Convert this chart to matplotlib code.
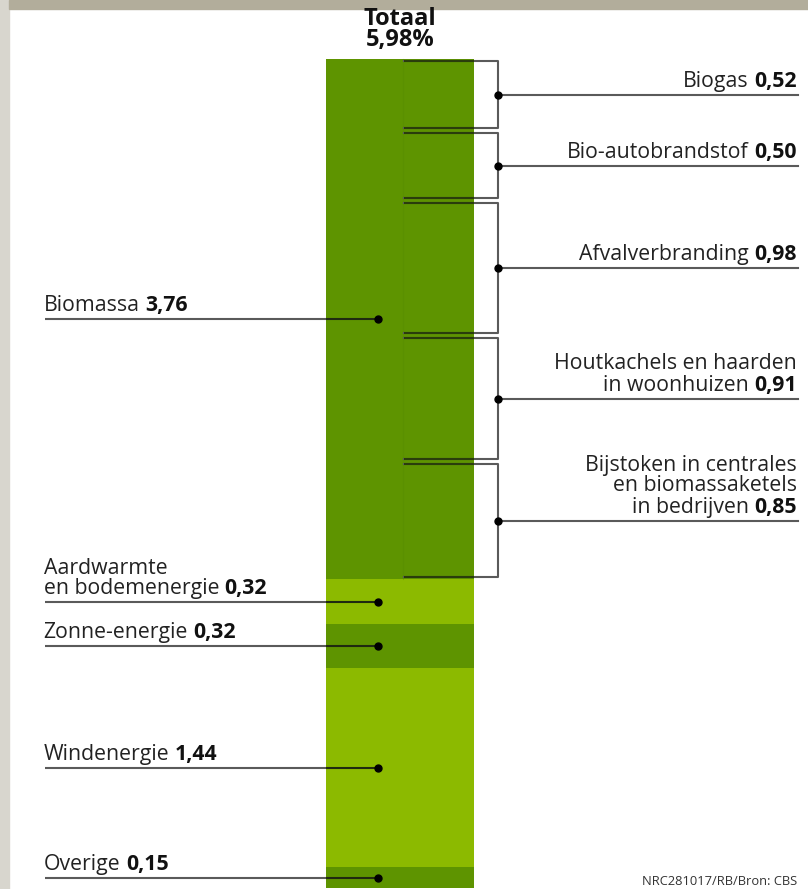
import matplotlib
matplotlib.use("Agg")
import matplotlib.pyplot as plt
from matplotlib.patches import Rectangle

plt.rcParams['font.family'] = ['Open Sans', 'DejaVu Sans']

# Share of renewable energy in total energy use (%), stacked from the bottom
sources = ["Overige", "Windenergie", "Zonne-energie",
           "Aardwarmte\nen bodemenergie", "Biomassa"]
shares = [0.15, 1.44, 0.32, 0.32, 3.76]
value_labels = ["0,15", "1,44", "0,32", "0,32", "3,76"]

# Breakdown of biomassa, from the top of the bar downwards
bio_parts = ["Biogas", "Bio-autobrandstof", "Afvalverbranding",
             "Houtkachels en haarden\nin woonhuizen",
             "Bijstoken in centrales\nen biomassaketels\nin bedrijven"]
bio_shares = [0.52, 0.50, 0.98, 0.91, 0.85]
bio_labels = ["0,52", "0,50", "0,98", "0,91", "0,85"]

total_label = "Totaal\n5,98%"
credit = "NRC281017/RB/Bron: CBS"

DARK = "#5e9400"
LIGHT = "#8cba00"
LINE = "#5a5a5a"

W, H = 808, 889
fig = plt.figure(figsize=(W / 100, H / 100), dpi=100)
fig.patch.set_facecolor("white")

# textured frame strips along the top and left edge
fig.add_artist(Rectangle((0, 0), 9 / W, 1, transform=fig.transFigure,
                         color="#d8d6ce", zorder=0))
fig.add_artist(Rectangle((9 / W, 1 - 9 / H), 1, 9 / H, transform=fig.transFigure,
                         color="#b2ad9b", zorder=0))

ax = fig.add_axes([0, 0, 1, 1])
ax.set_axis_off()

total = sum(shares)
px_per_unit = 829 / total
bar_bottom_px = 888
ax.set_xlim(0, W)
ax.set_ylim(-(H - bar_bottom_px) / px_per_unit,
            total + (H - (H - bar_bottom_px) - 829) / px_per_unit)

bar_x0, bar_x1 = 326, 474
bar_c = (bar_x0 + bar_x1) / 2
bar_w = bar_x1 - bar_x0
colors = [DARK, LIGHT, DARK, LIGHT, DARK]

bottoms = []
b = 0.0
for v in shares:
    bottoms.append(b)
    b += v
ax.bar([bar_c] * len(shares), shares, bottom=bottoms, width=bar_w,
       color=colors, edgecolor="none", zorder=1)

# faint seam between the two halves of the biomassa block
bio_bottom = bottoms[-1]
ax.plot([403, 403], [bio_bottom, total], color="#558a00", lw=0.8,
        alpha=0.35, zorder=2)

label_fs = 15.3
left_x0, left_dot = 45, 378

# labels on the left for the main sources
for name, v, bt, vl in zip(sources, shares, bottoms, value_labels):
    y = bt + v / 2
    ax.plot([left_x0, bar_x0], [y, y], color=LINE, lw=1.5, zorder=3,
            solid_capstyle="butt")
    ax.plot([bar_x0, left_dot], [y, y], color="#1f2a10", lw=1.5, zorder=3,
            solid_capstyle="butt")
    ax.plot(left_dot, y, "o", color="black", ms=5, zorder=4)
    t = ax.annotate(name, xy=(left_x0, y), xytext=(-1, 2),
                    textcoords="offset points", ha="left", va="bottom",
                    fontsize=label_fs, color="#222222", linespacing=0.95)
    ax.annotate(vl, xy=(1, 0), xycoords=t, xytext=(4, 0),
                textcoords="offset points", ha="left", va="bottom",
                fontsize=label_fs, fontweight="bold", color="#111111")

# brackets and labels on the right for the biomassa breakdown
inner_x, brk_x, right_x1 = 404, 498, 798
gap = 2.5 / px_per_unit
top = total
for name, v, vl in zip(bio_parts, bio_shares, bio_labels):
    y_top = top - gap
    y_bot = top - v + gap
    y_mid = top - v / 2
    ax.plot([inner_x, brk_x, brk_x, inner_x], [y_top, y_top, y_bot, y_bot],
            color=LINE, lw=1.5, zorder=3)
    for yy in (y_top, y_bot):
        ax.plot([inner_x, bar_x1], [yy, yy], color="#2a3d0c", lw=1.5, zorder=3,
                solid_capstyle="butt")
    ax.plot([brk_x, right_x1], [y_mid, y_mid], color=LINE, lw=1.5, zorder=3)
    ax.plot(brk_x, y_mid, "o", color="black", ms=5, zorder=4)
    tv = ax.annotate(vl, xy=(right_x1, y_mid), xytext=(-1, 2),
                     textcoords="offset points", ha="right", va="bottom",
                     fontsize=label_fs, fontweight="bold", color="#111111")
    lines = name.split("\n")
    tl = ax.annotate(lines[-1], xy=(0, 0), xycoords=tv, xytext=(-4, 0),
                     textcoords="offset points", ha="right", va="bottom",
                     fontsize=label_fs, color="#222222")
    if len(lines) > 1:
        # leading lines sit flush right above the line that carries the value
        ax.annotate("\n".join(lines[:-1]), xy=(right_x1, 1),
                    xycoords=("data", tl), xytext=(-1, 0.5),
                    textcoords="offset points", ha="right", va="bottom",
                    multialignment="right", fontsize=label_fs,
                    color="#222222", linespacing=0.95)
    top -= v

ax.annotate(total_label, xy=(bar_c, total), xytext=(0, 5),
            textcoords="offset points", ha="center", va="bottom",
            fontsize=17, fontweight="bold", color="#111111", linespacing=0.82)

ax.text(797, 0.0, credit, ha="right", va="bottom", fontsize=9.3,
        color="#333333", transform=ax.transData)

fig.savefig("out.png", dpi=100)
